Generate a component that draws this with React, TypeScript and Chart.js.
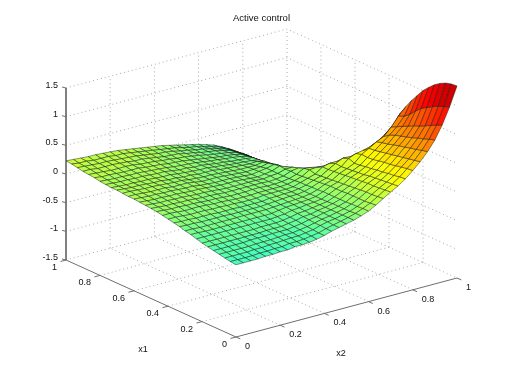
import React, { useEffect, useRef } from "react";
import { Chart, registerables } from "chart.js";

Chart.register(...registerables);

const titleText = "Active control";
const x1Label = "x1";
const x2Label = "x2";
const groundTicks = [0, 0.2, 0.4, 0.6, 0.8, 1];
const groundTickLabels = ["0", "0.2", "0.4", "0.6", "0.8", "1"];
const zTicks = [-1.5, -1, -0.5, 0, 0.5, 1, 1.5];
const zTickLabels = ["-1.5", "-1", "-0.5", "0", "0.5", "1", "1.5"];

// surface height, in hundredths; row = x1 step, column = x2 step (30 steps per axis)
const gridSteps = 30;
const surfaceZ = [
  [-24,-24,-24,-24,-23,-23,-22,-22,-20,-20,-19,-17,-14,-10,-7,-4,-1,3,8,15,23,31,38,47,58,70,84,101,124,152,185],
  [-23,-23,-23,-23,-22,-22,-21,-21,-19,-19,-18,-16,-14,-10,-7,-4,-1,3,8,14,22,30,37,46,57,68,82,98,119,148,184],
  [-21,-21,-21,-21,-20,-20,-19,-19,-18,-17,-17,-15,-13,-9,-6,-4,-1,2,7,13,21,29,36,44,55,66,79,94,114,144,181],
  [-19,-19,-19,-19,-19,-18,-18,-18,-17,-16,-16,-14,-12,-9,-6,-4,-1,2,7,13,21,28,35,43,53,64,77,91,109,139,176],
  [-17,-17,-17,-17,-17,-16,-16,-16,-15,-15,-15,-13,-11,-8,-6,-3,-1,2,6,13,20,28,34,41,51,62,74,87,104,133,169],
  [-15,-15,-15,-15,-15,-15,-15,-15,-14,-14,-14,-12,-10,-7,-6,-3,-1,2,6,13,19,27,33,40,50,60,72,84,100,127,160],
  [-13,-13,-13,-13,-13,-13,-13,-13,-12,-12,-12,-11,-9,-6,-5,-3,-1,1,6,12,18,26,31,38,48,58,69,81,95,118,150],
  [-10,-10,-10,-10,-10,-10,-10,-10,-10,-10,-10,-9,-8,-5,-4,-2,-1,1,6,12,17,25,30,37,46,56,66,78,90,108,137],
  [-7,-7,-8,-8,-8,-8,-8,-8,-8,-8,-8,-8,-6,-4,-3,-2,-1,1,6,12,16,24,29,35,45,54,64,74,85,100,124],
  [-5,-5,-6,-6,-6,-6,-6,-6,-6,-6,-6,-6,-5,-4,-3,-2,-1,1,5,11,15,23,28,34,46,53,61,67,80,96,109],
  [-2,-3,-3,-4,-4,-4,-4,-5,-5,-5,-5,-5,-4,-3,-2,-1,-1,1,5,10,14,22,27,38,43,45,49,55,64,74,93],
  [0,-1,-1,-2,-2,-2,-3,-3,-3,-4,-4,-4,-4,-2,-2,-1,-1,1,4,9,13,21,28,34,33,30,30,32,38,46,55],
  [2,2,1,0,0,0,-1,-1,-2,-2,-3,-3,-3,-1,-1,-1,-1,0,4,8,12,21,24,24,20,17,18,20,23,27,30],
  [4,4,3,2,2,2,1,0,0,-1,-2,-2,-2,-1,-1,-1,-1,0,3,7,15,16,15,10,6,4,5,6,7,9,10],
  [6,5,4,4,3,3,2,1,1,0,-1,-1,-1,0,0,-1,-1,0,2,6,13,11,2,-3,-5,-6,-6,-6,-6,-5,-5],
  [7,6,5,5,4,4,3,2,2,1,0,0,0,0,0,0,-1,0,2,7,9,5,-6,-10,-13,-15,-16,-17,-17,-17,-18],
  [8,7,6,6,5,5,4,3,3,2,1,0,0,0,0,0,-1,1,2,6,6,-3,-12,-18,-22,-25,-27,-28,-29,-29,-30],
  [9,8,7,7,6,6,5,4,4,3,2,1,1,1,0,-1,-2,0,2,7,2,-8,-17,-23,-27,-31,-34,-36,-38,-39,-40],
  [10,9,8,8,7,7,6,5,5,3,2,1,1,1,0,-1,-2,0,2,5,-5,-14,-22,-28,-33,-37,-41,-44,-46,-48,-50],
  [10,10,9,8,8,8,6,6,6,4,2,2,2,1,0,-1,-2,-1,0,3,-4,-12,-21,-28,-33,-38,-42,-46,-49,-52,-56],
  [11,11,10,9,9,8,7,6,6,4,3,2,2,1,0,-1,-2,-2,-2,0,-5,-11,-20,-27,-33,-39,-44,-48,-52,-56,-62],
  [12,11,10,10,9,8,8,6,6,4,4,2,2,2,0,-1,-2,-3,-4,-3,-6,-15,-25,-32,-38,-44,-50,-54,-58,-62,-68],
  [12,11,10,10,9,9,8,7,7,5,4,3,2,2,0,-1,-3,-4,-5,-6,-8,-16,-30,-38,-44,-50,-55,-60,-64,-68,-74],
  [13,12,11,11,10,10,9,8,8,6,4,4,2,2,0,-2,-3,-5,-6,-7,-9,-17,-30,-38,-45,-51,-56,-62,-66,-70,-80],
  [14,13,12,12,11,11,10,9,8,7,5,4,3,2,0,-2,-3,-5,-6,-8,-11,-18,-26,-38,-46,-52,-58,-63,-68,-73,-86],
  [16,14,14,13,12,12,12,10,9,8,6,5,4,2,0,-2,-4,-6,-7,-9,-12,-19,-27,-39,-48,-55,-62,-68,-74,-80,-92],
  [17,16,15,14,14,14,13,11,10,9,7,6,4,3,1,-1,-4,-6,-8,-10,-13,-20,-28,-37,-50,-58,-65,-72,-80,-88,-98],
  [18,18,16,16,16,15,14,12,12,10,8,6,5,4,1,-1,-4,-6,-8,-11,-14,-21,-28,-37,-48,-58,-66,-75,-84,-93,-104],
  [20,19,18,17,17,16,15,14,13,11,9,7,6,4,1,-1,-4,-6,-9,-12,-16,-22,-30,-37,-46,-58,-68,-78,-88,-98,-110],
  [22,20,20,18,18,18,16,16,14,12,10,8,6,4,2,-1,-4,-6,-10,-13,-17,-23,-30,-38,-46,-60,-71,-82,-93,-104,-115],
  [23,22,21,20,20,19,18,17,15,13,11,9,7,5,2,-1,-4,-7,-10,-14,-18,-24,-31,-39,-47,-62,-74,-86,-98,-110,-120],
];

// view of the 3D box on the page
const project = (x1: number, x2: number, z: number) => ({
  x: 236 - 170 * x1 + 221 * x2,
  y: 337 - 77 * x1 - 59 * x2 - 57.33 * (z + 1.5),
});
const viewDepth = (x1: number, x2: number, z: number) => x1 + 0.769 * x2 - 2.135 * z;

const colorLimit = 1.85;
const colorShift = 0.01;
const jet = (v: number) => {
  const t = Math.floor(Math.max(0, Math.min(0.9999, v)) * 64) / 63;
  const c = (p: number) => Math.round(255 * Math.max(0, Math.min(1, 1.5 - 4 * Math.abs(t - p))));
  return `rgb(${c(0.75)},${c(0.5)},${c(0.25)})`;
};

const lineSet = (data: { x: number; y: number }[], color: string, width: number, dash: number[] = []) => ({
  data,
  showLine: true,
  fill: false,
  borderColor: color,
  borderWidth: width,
  borderDash: dash,
  pointRadius: 0,
  tension: 0,
  clip: false,
});

function buildDatasets() {
  const drawOrder: any[] = [];
  const gridColor = "#a8a8a8";
  const dots = [1, 3];
  const lo = -1.5;
  const hi = 1.5;
  // floor and back walls
  for (const t of groundTicks.slice(1, 5)) {
    drawOrder.push(lineSet([project(t, 0, lo), project(t, 1, lo)], gridColor, 1, dots));
    drawOrder.push(lineSet([project(0, t, lo), project(1, t, lo)], gridColor, 1, dots));
    drawOrder.push(lineSet([project(1, t, lo), project(1, t, hi)], gridColor, 1, dots));
    drawOrder.push(lineSet([project(t, 1, lo), project(t, 1, hi)], gridColor, 1, dots));
  }
  for (const z of zTicks) {
    drawOrder.push(lineSet([project(1, 0, z), project(1, 1, z), project(0, 1, z)], gridColor, 1, dots));
  }
  drawOrder.push(lineSet([project(1, 1, lo), project(1, 1, hi)], gridColor, 1, dots));
  // axis lines and tick marks
  const axisColor = "#6e6e6e";
  drawOrder.push(lineSet([project(1, 0, hi), project(1, 0, lo), project(0, 0, lo), project(0, 1, lo)], axisColor, 1));
  for (const z of zTicks) {
    const p = project(1, 0, z);
    drawOrder.push(lineSet([p, { x: p.x - 4, y: p.y - 1 }], axisColor, 1));
  }
  for (const t of groundTicks) {
    drawOrder.push(lineSet([project(t, 0, lo), project(t, -0.025, lo)], axisColor, 1));
    drawOrder.push(lineSet([project(0, t, lo), project(-0.025, t, lo)], axisColor, 1));
  }
  // surface, far cells first
  const cells: { depth: number; i: number; j: number }[] = [];
  for (let i = 0; i < gridSteps; i++) {
    for (let j = 0; j < gridSteps; j++) {
      const meanZ = (surfaceZ[i][j] + surfaceZ[i + 1][j] + surfaceZ[i + 1][j + 1] + surfaceZ[i][j + 1]) / 400;
      cells.push({ depth: viewDepth((i + 0.5) / gridSteps, (j + 0.5) / gridSteps, meanZ), i, j });
    }
  }
  cells.sort((a, b) => b.depth - a.depth);
  for (const { i, j } of cells) {
    const corner = (a: number, b: number) => project(a / gridSteps, b / gridSteps, surfaceZ[a][b] / 100);
    const v = surfaceZ[i][j] / 100;
    drawOrder.push({
      data: [corner(i, j), corner(i + 1, j), corner(i + 1, j + 1), corner(i, j + 1), corner(i, j)],
      showLine: true,
      fill: "shape",
      backgroundColor: jet(0.5 + colorShift + v / (2 * colorLimit)),
      borderColor: "rgba(20,20,20,0.58)",
      borderWidth: 0.8,
      pointRadius: 0,
      tension: 0,
      clip: false,
    });
  }
  return drawOrder.reverse();
}

const textPlugin = {
  id: "boxText",
  afterDraw(chart: any) {
    const { ctx, scales } = chart;
    const put = (text: string, px: number, py: number, align: CanvasTextAlign, size = 9) => {
      ctx.font = `${size}px "Liberation Sans", Arial, sans-serif`;
      ctx.fillStyle = "#101010";
      ctx.textAlign = align;
      ctx.textBaseline = "middle";
      ctx.fillText(text, scales.x.getPixelForValue(px), scales.y.getPixelForValue(py));
    };
    zTicks.forEach((z, k) => {
      const p = project(1, 0, z);
      put(zTickLabels[k], p.x - 8, p.y - 2.5, "right");
    });
    groundTicks.forEach((t, k) => {
      const a = project(t, 0, -1.5);
      put(groundTickLabels[k], a.x - 9, a.y + 7.5, "right");
      const b = project(0, t, -1.5);
      put(groundTickLabels[k], b.x + 9, b.y + 9.5, "left");
    });
    put(x1Label, 143, 350, "center");
    put(x2Label, 341, 354, "center");
    put(titleText, 261.5, 18.5, "center", 9.5);
  },
};

export default function App() {
  const ref = useRef<HTMLCanvasElement>(null);
  useEffect(() => {
    document.body.style.margin = "0";
    const chart = new Chart(ref.current!, {
      type: "scatter",
      data: { datasets: buildDatasets() },
      plugins: [textPlugin],
      options: {
        animation: false,
        responsive: false,
        layout: { padding: 0 },
        plugins: { legend: { display: false }, tooltip: { enabled: false }, title: { display: false } },
        scales: {
          x: { type: "linear", min: 0, max: 507, display: false },
          y: { type: "linear", min: 0, max: 380, reverse: true, display: false },
        },
      },
    } as any);
    return () => chart.destroy();
  }, []);
  return <canvas ref={ref} width={507} height={380} style={{ display: "block" }} />;
}
